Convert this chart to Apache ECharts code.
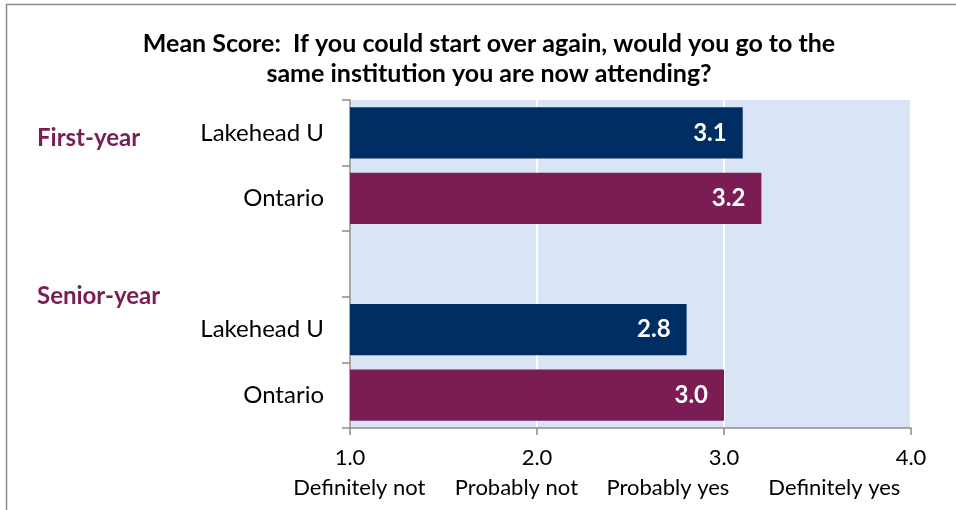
<!DOCTYPE html>
<html><head><meta charset="utf-8">
<script src="https://cdn.jsdelivr.net/npm/echarts@6/dist/echarts.min.js"></script>
<style>html,body{margin:0;padding:0;background:#fff}#c{width:956px;height:510px}</style>
</head><body><div id="c"></div>
<script>
const categories = ['Lakehead U', 'Ontario', '', 'Lakehead U', 'Ontario'];
const meanScores = [3.1, 3.2, null, 2.8, 3.0];
const barColors = ['#002D62', '#7B1C54', '#002D62', '#002D62', '#7B1C54'];
const xTickValues = [1, 2, 3, 4];
const scaleLabels = ['Definitely not', 'Probably not', 'Probably yes', 'Definitely yes'];
const groupLabels = ['First-year', 'Senior-year'];
const titleText = 'Mean Score:  If you could start over again, would you go to the\nsame institution you are now attending?';

// layout: where the scale descriptions sit along the value axis, and group label rows
const scaleLabelAt = [1.05, 1.89, 2.70, 3.59];
const groupLabelTop = [126, 284];

const FONT = 'Lato, "Open Sans", sans-serif';
const chart = echarts.init(document.getElementById('c'));
chart.setOption({
  animation: false,
  title: {
    text: titleText, left: 484, top: 24, textAlign: 'center',
    textStyle: { fontFamily: FONT, fontWeight: 'bold', fontSize: 25, color: '#000', lineHeight: 30 }
  },
  grid: { left: 350, right: 45, top: 100, bottom: 82, show: true, backgroundColor: '#D9E4F7', borderWidth: 0, outerBoundsMode: 'none', containLabel: false },
  xAxis: [{
    type: 'value', min: 1, max: 4, interval: 1,
    axisLine: { show: true, lineStyle: { color: '#8c8c8c', width: 1.5 } },
    axisTick: { show: true, length: 7, lineStyle: { color: '#8c8c8c', width: 1.5 } },
    splitLine: { show: true, lineStyle: { color: '#ffffff', width: 2 } },
    axisLabel: {
      margin: 19, fontFamily: FONT, fontSize: 22, color: '#000', hideOverlap: false,
      formatter: v => xTickValues.indexOf(v) >= 0 ? v.toFixed(1) : ''
    }
  }, {
    type: 'value', min: 1, max: 4, position: 'bottom', offset: 0,
    axisLine: { show: false }, axisTick: { show: false }, splitLine: { show: false },
    axisLabel: {
      margin: 49, fontFamily: FONT, fontSize: 22, color: '#000', hideOverlap: false,
      customValues: scaleLabelAt,
      formatter: v => { const i = scaleLabelAt.indexOf(v); return i >= 0 ? scaleLabels[i] : ''; }
    }
  }],
  yAxis: {
    type: 'category', data: categories, inverse: true,
    axisLine: { show: true, lineStyle: { color: '#8c8c8c', width: 1.5 } },
    axisTick: { show: true, length: 8, lineStyle: { color: '#8c8c8c', width: 1.5 } },
    axisLabel: { margin: 26, fontFamily: FONT, fontSize: 24, color: '#000' }
  },
  series: [{
    type: 'bar', barCategoryGap: '22%', xAxisIndex: 0,
    data: meanScores.map((v, i) => ({ value: v, itemStyle: { color: barColors[i] } })),
    label: {
      show: true, position: 'insideRight', distance: 16, color: '#fff',
      fontFamily: FONT, fontWeight: 'bold', fontSize: 24,
      formatter: p => p.value == null ? '' : Number(p.value).toFixed(1)
    }
  }],
  graphic: [
    { type: 'rect', left: 4, top: 2, shape: { width: 1000, height: 600 }, style: { fill: 'none', stroke: '#8c8c8c', lineWidth: 1.5 }, silent: true }
  ].concat(groupLabels.map((t, i) => ({
    type: 'text', left: 37, top: groupLabelTop[i],
    style: { text: t, fontFamily: FONT, fontWeight: 'bold', fontSize: 24, fill: '#7B1C54' }
  })))
});
</script></body></html>
